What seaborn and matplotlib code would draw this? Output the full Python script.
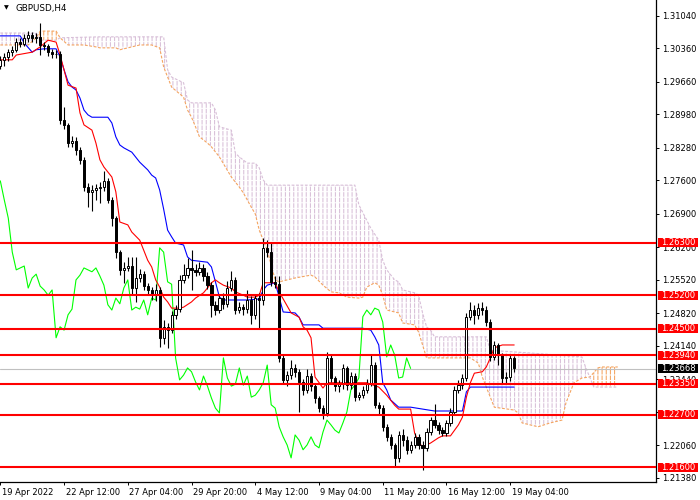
"""
GBPUSD H4 candles with Ichimoku and horizontal support/resistance levels,
drawn in the MetaTrader look. Saves out.png (700x500).
"""
import matplotlib
matplotlib.use("Agg")
import matplotlib.pyplot as plt
import matplotlib.transforms as mtransforms
from matplotlib.patches import Polygon, Rectangle
import numpy as np
import seaborn as sns

symbol = "GBPUSD,H4"

# candles, one per H4 bar (index 0 = first visible bar)
opens = [
    1.3000, 1.3012, 1.3018, 1.3028, 1.3033, 1.3049, 1.3045, 1.3058, 1.3064, 1.3058,
    1.3060, 1.3043, 1.3041, 1.3028, 1.3024, 1.3024, 1.2886, 1.2876, 1.2838, 1.2842,
    1.2824, 1.2803, 1.2746, 1.2736, 1.2740, 1.2744, 1.2746, 1.2759, 1.2719, 1.2681,
    1.2610, 1.2573, 1.2577, 1.2581, 1.2535, 1.2556, 1.2564, 1.2539, 1.2531, 1.2520,
    1.2531, 1.2431, 1.2454, 1.2447, 1.2479, 1.2491, 1.2552, 1.2562, 1.2577, 1.2573,
    1.2569, 1.2577, 1.2560, 1.2541, 1.2500, 1.2489, 1.2514, 1.2502, 1.2535, 1.2552,
    1.2489, 1.2495, 1.2491, 1.2510, 1.2479, 1.2514, 1.2510, 1.2619, 1.2610, 1.2548,
    1.2543, 1.2389, 1.2343, 1.2353, 1.2368, 1.2360, 1.2339, 1.2322, 1.2351, 1.2330,
    1.2305, 1.2284, 1.2274, 1.2389, 1.2347, 1.2330, 1.2334, 1.2368, 1.2332, 1.2351,
    1.2307, 1.2311, 1.2322, 1.2337, 1.2374, 1.2291, 1.2284, 1.2245, 1.2224, 1.2207,
    1.2180, 1.2228, 1.2217, 1.2197, 1.2207, 1.2224, 1.2207, 1.2201, 1.2234, 1.2259,
    1.2249, 1.2238, 1.2232, 1.2253, 1.2276, 1.2322, 1.2332, 1.2347, 1.2475, 1.2489,
    1.2479, 1.2493, 1.2489, 1.2464, 1.2391, 1.2416, 1.2395, 1.2347, 1.2349, 1.2389,
]
closes = [
    1.3012, 1.3018, 1.3028, 1.3033, 1.3049, 1.3045, 1.3058, 1.3064, 1.3058, 1.3060,
    1.3043, 1.3041, 1.3028, 1.3024, 1.3024, 1.2886, 1.2876, 1.2838, 1.2842, 1.2824,
    1.2803, 1.2746, 1.2736, 1.2740, 1.2744, 1.2746, 1.2759, 1.2719, 1.2681, 1.2610,
    1.2573, 1.2577, 1.2581, 1.2535, 1.2556, 1.2564, 1.2539, 1.2531, 1.2520, 1.2531,
    1.2431, 1.2454, 1.2447, 1.2479, 1.2491, 1.2552, 1.2562, 1.2577, 1.2573, 1.2569,
    1.2577, 1.2560, 1.2541, 1.2500, 1.2489, 1.2514, 1.2502, 1.2535, 1.2552, 1.2489,
    1.2495, 1.2491, 1.2510, 1.2479, 1.2514, 1.2510, 1.2619, 1.2610, 1.2548, 1.2543,
    1.2389, 1.2343, 1.2353, 1.2368, 1.2360, 1.2339, 1.2322, 1.2351, 1.2330, 1.2305,
    1.2284, 1.2274, 1.2389, 1.2347, 1.2330, 1.2334, 1.2368, 1.2332, 1.2351, 1.2307,
    1.2311, 1.2322, 1.2337, 1.2374, 1.2291, 1.2284, 1.2245, 1.2224, 1.2207, 1.2180,
    1.2228, 1.2217, 1.2197, 1.2207, 1.2224, 1.2207, 1.2201, 1.2234, 1.2259, 1.2249,
    1.2238, 1.2232, 1.2253, 1.2276, 1.2322, 1.2332, 1.2347, 1.2475, 1.2489, 1.2479,
    1.2493, 1.2489, 1.2464, 1.2391, 1.2416, 1.2395, 1.2347, 1.2349, 1.2389, 1.2367,
]
highs = [
    1.3020, 1.3026, 1.3035, 1.3041, 1.3057, 1.3058, 1.3066, 1.3072, 1.3070, 1.3068,
    1.3089, 1.3050, 1.3046, 1.3034, 1.3032, 1.3030, 1.2913, 1.2880, 1.2852, 1.2850,
    1.2830, 1.2808, 1.2755, 1.2750, 1.2752, 1.2756, 1.2780, 1.2764, 1.2725, 1.2686,
    1.2615, 1.2590, 1.2600, 1.2600, 1.2600, 1.2575, 1.2570, 1.2546, 1.2538, 1.2543,
    1.2537, 1.2468, 1.2462, 1.2487, 1.2500, 1.2562, 1.2585, 1.2598, 1.2614, 1.2586,
    1.2590, 1.2585, 1.2568, 1.2548, 1.2508, 1.2522, 1.2524, 1.2550, 1.2570, 1.2558,
    1.2505, 1.2502, 1.2530, 1.2518, 1.2522, 1.2525, 1.2640, 1.2635, 1.2632, 1.2560,
    1.2560, 1.2395, 1.2362, 1.2385, 1.2376, 1.2366, 1.2345, 1.2365, 1.2357, 1.2335,
    1.2310, 1.2290, 1.2401, 1.2395, 1.2352, 1.2342, 1.2376, 1.2373, 1.2360, 1.2357,
    1.2318, 1.2330, 1.2345, 1.2395, 1.2380, 1.2296, 1.2290, 1.2250, 1.2230, 1.2212,
    1.2236, 1.2240, 1.2225, 1.2215, 1.2232, 1.2230, 1.2215, 1.2242, 1.2266, 1.2292,
    1.2255, 1.2245, 1.2260, 1.2284, 1.2330, 1.2342, 1.2356, 1.2483, 1.2505, 1.2500,
    1.2503, 1.2505, 1.2497, 1.2470, 1.2425, 1.2420, 1.2400, 1.2360, 1.2396, 1.2392,
]
lows = [
    1.2992, 1.3000, 1.3010, 1.3020, 1.3028, 1.3038, 1.3040, 1.3050, 1.3050, 1.3048,
    1.3022, 1.3033, 1.3020, 1.3016, 1.3015, 1.2878, 1.2868, 1.2830, 1.2830, 1.2812,
    1.2795, 1.2738, 1.2705, 1.2695, 1.2720, 1.2712, 1.2738, 1.2712, 1.2665, 1.2598,
    1.2562, 1.2545, 1.2570, 1.2520, 1.2505, 1.2548, 1.2530, 1.2522, 1.2510, 1.2508,
    1.2412, 1.2418, 1.2410, 1.2440, 1.2470, 1.2485, 1.2545, 1.2555, 1.2530, 1.2560,
    1.2562, 1.2550, 1.2532, 1.2474, 1.2478, 1.2482, 1.2492, 1.2495, 1.2528, 1.2480,
    1.2482, 1.2478, 1.2483, 1.2460, 1.2470, 1.2452, 1.2500, 1.2600, 1.2540, 1.2535,
    1.2380, 1.2335, 1.2330, 1.2345, 1.2350, 1.2276, 1.2312, 1.2315, 1.2320, 1.2295,
    1.2275, 1.2262, 1.2268, 1.2338, 1.2320, 1.2318, 1.2325, 1.2322, 1.2325, 1.2298,
    1.2300, 1.2305, 1.2315, 1.2330, 1.2285, 1.2272, 1.2236, 1.2215, 1.2198, 1.2160,
    1.2172, 1.2205, 1.2188, 1.2190, 1.2200, 1.2198, 1.2155, 1.2195, 1.2228, 1.2242,
    1.2230, 1.2225, 1.2225, 1.2246, 1.2270, 1.2316, 1.2325, 1.2340, 1.2468, 1.2460,
    1.2470, 1.2478, 1.2455, 1.2383, 1.2385, 1.2375, 1.2335, 1.2335, 1.2340, 1.2360,
]

# Ichimoku lines, read as (bar index, price) break points
tenkan_idx = [0, 3, 4, 8, 10, 12, 14, 15, 16, 17, 19, 20, 21, 23, 24, 25, 26, 28, 29, 30,
              32, 33, 35, 36, 37, 38, 39, 40, 41, 42, 43, 45, 46, 48, 49, 51, 52, 53, 54, 55,
              56, 58, 59, 61, 62, 64, 65, 66, 69, 70, 73, 75, 76, 77, 78, 79, 81, 82, 92, 95,
              97, 99, 100, 103, 104, 105, 106, 108, 110, 111, 113, 115, 116, 117, 118, 119, 121, 122, 123, 124,
              126, 129]
tenkan = [1.3012, 1.3012, 1.3022, 1.3028, 1.3039, 1.3053, 1.3049, 1.3022, 1.2991, 1.2959,
          1.2953, 1.2901, 1.2876, 1.2865, 1.2838, 1.2803, 1.2788, 1.2767, 1.2736, 1.2673,
          1.2667, 1.2652, 1.2635, 1.2614, 1.2593, 1.2579, 1.2552, 1.2537, 1.2516, 1.2506,
          1.2493, 1.2493, 1.2495, 1.2506, 1.2514, 1.2525, 1.2535, 1.2546, 1.2552, 1.2546,
          1.2541, 1.2535, 1.2527, 1.2520, 1.2516, 1.2516, 1.2520, 1.2546, 1.2546, 1.2527,
          1.2483, 1.2474, 1.2454, 1.2447, 1.2431, 1.2349, 1.2326, 1.2337, 1.2337, 1.2328,
          1.2311, 1.2290, 1.2282, 1.2282, 1.2232, 1.2213, 1.2203, 1.2211, 1.2222, 1.2226,
          1.2226, 1.2249, 1.2265, 1.2307, 1.2337, 1.2357, 1.2360, 1.2370, 1.2389, 1.2410,
          1.2416, 1.2416]

kijun_idx = [0, 5, 6, 8, 9, 11, 14, 15, 16, 17, 18, 19, 20, 21, 22, 23, 27, 28, 29, 30,
             31, 33, 35, 37, 38, 39, 40, 41, 42, 43, 44, 46, 47, 48, 52, 53, 54, 55, 56, 62,
             65, 66, 67, 69, 70, 71, 74, 75, 76, 80, 81, 91, 93, 94, 95, 96, 97, 98, 100, 103,
             109, 116, 117, 118, 129]
kijun = [1.3062, 1.3062, 1.3047, 1.3028, 1.3033, 1.3035, 1.3035, 1.3018, 1.2991, 1.2966,
         1.2955, 1.2949, 1.2932, 1.2907, 1.2897, 1.2892, 1.2892, 1.2880, 1.2851, 1.2834,
         1.2828, 1.2819, 1.2798, 1.2782, 1.2771, 1.2765, 1.2740, 1.2700, 1.2656, 1.2642,
         1.2629, 1.2625, 1.2600, 1.2593, 1.2589, 1.2579, 1.2548, 1.2516, 1.2510, 1.2510,
         1.2512, 1.2531, 1.2541, 1.2546, 1.2516, 1.2485, 1.2483, 1.2474, 1.2458, 1.2458,
         1.2451, 1.2451, 1.2447, 1.2433, 1.2416, 1.2337, 1.2322, 1.2301, 1.2286, 1.2286,
         1.2278, 1.2278, 1.2318, 1.2328, 1.2328]

span_a_idx = [0, 7, 9, 10, 14, 15, 17, 21, 24, 25, 29, 30, 33, 35, 38, 40, 41, 42, 43, 46,
              47, 48, 49, 50, 52, 53, 55, 58, 60, 61, 62, 63, 64, 65, 66, 67, 68, 69, 70, 74,
              78, 79, 81, 83, 85, 87, 90, 91, 92, 94, 95, 96, 97, 100, 101, 104, 105, 107, 118, 120,
              121, 122, 123, 124, 129, 130, 131, 135, 138, 141, 142, 144, 146, 148, 150, 151, 155]
span_a = [1.3043, 1.3043, 1.3058, 1.3072, 1.3072, 1.3058, 1.3043, 1.3043, 1.3039, 1.3037,
          1.3037, 1.3033, 1.3039, 1.3043, 1.3043, 1.3037, 1.2997, 1.2976, 1.2955, 1.2934,
          1.2907, 1.2892, 1.2872, 1.2851, 1.2838, 1.2830, 1.2809, 1.2767, 1.2746, 1.2734,
          1.2719, 1.2704, 1.2690, 1.2656, 1.2635, 1.2614, 1.2583, 1.2552, 1.2548, 1.2556,
          1.2562, 1.2558, 1.2541, 1.2527, 1.2525, 1.2516, 1.2514, 1.2516, 1.2537, 1.2546,
          1.2541, 1.2520, 1.2489, 1.2483, 1.2462, 1.2458, 1.2443, 1.2389, 1.2389, 1.2378,
          1.2349, 1.2328, 1.2307, 1.2286, 1.2280, 1.2274, 1.2253, 1.2245, 1.2253, 1.2259,
          1.2295, 1.2337, 1.2347, 1.2349, 1.2368, 1.2370, 1.2370]

span_b_idx = [0, 9, 10, 14, 15, 25, 41, 42, 43, 46, 47, 48, 53, 54, 55, 58, 59, 60, 62, 64,
              65, 66, 67, 89, 90, 93, 95, 96, 97, 99, 100, 101, 104, 105, 106, 107, 108, 109, 122, 123,
              135, 146, 147, 149, 155]
span_b = [1.3068, 1.3068, 1.3053, 1.3053, 1.3058, 1.3060, 1.3060, 1.2991, 1.2976, 1.2964,
          1.2928, 1.2922, 1.2922, 1.2907, 1.2872, 1.2865, 1.2817, 1.2809, 1.2796, 1.2796,
          1.2786, 1.2761, 1.2750, 1.2750, 1.2709, 1.2660, 1.2635, 1.2593, 1.2573, 1.2552,
          1.2548, 1.2531, 1.2525, 1.2520, 1.2483, 1.2454, 1.2447, 1.2433, 1.2433, 1.2405,
          1.2398, 1.2391, 1.2368, 1.2328, 1.2328]

# bar ranges where span A is above span B (sandy cloud)
up_cloud = [(9.5, 14.5), (147.8, 156.0)]
chikou_shift = 26

levels = [1.2630, 1.2520, 1.2450, 1.2394, 1.2335, 1.2270, 1.2160]
bid = 1.23668

price_ticks = [1.31040, 1.30360, 1.29660, 1.28980, 1.28280, 1.27600, 1.26900, 1.26200,
               1.25520, 1.24820, 1.24140, 1.23440, 1.22760, 1.22060, 1.21380]
hidden_ticks = [1.22760]  # sits fully under the 1.22700 box
time_tick_idx = [0, 16, 32, 48, 64, 80, 96, 112, 128]
time_labels = ["19 Apr 2022", "22 Apr 12:00", "27 Apr 04:00", "29 Apr 20:00", "4 May 12:00",
               "9 May 04:00", "11 May 20:00", "16 May 12:00", "19 May 04:00"]

THISTLE = "#D8BFD8"
SANDY = "#F4A460"

sns.set_theme(style="white")
plt.rcParams["font.family"] = ["DejaVu Sans"]
plt.rcParams["hatch.linewidth"] = 0.75

fig = plt.figure(figsize=(7, 5), dpi=100)
ax = fig.add_axes([0, 18 / 500, 656 / 700, 482 / 500])
ax.set_facecolor("white")
ymin, ymax = 1.21296, 1.3137
ax.set_xlim(-0.08, 164.6)
ax.set_ylim(ymin, ymax)

# cloud: hatched polygon between span A and span B, broken into dashes
verts = list(zip(span_a_idx, span_a)) + list(zip(span_b_idx[::-1], span_b[::-1]))
pink_ranges = [(-1, up_cloud[0][0]), (up_cloud[0][1], up_cloud[1][0])]
for ranges, colour in ((pink_ranges, THISTLE), (up_cloud, SANDY)):
    for x0, x1 in ranges:
        patch = Polygon(verts, closed=True, fill=False, hatch="||||",
                        edgecolor=colour, linewidth=0, zorder=1)
        ax.add_patch(patch)
        clip = Rectangle((x0, ymin), x1 - x0, ymax - ymin, transform=ax.transData)
        patch.set_clip_path(clip)
breaker = Polygon(verts, closed=True, fill=False, hatch="---", edgecolor="white",
                  linewidth=0, zorder=1.05)
ax.add_patch(breaker)

ax.plot(span_a_idx, span_a, color=SANDY, lw=0.8, ls=(0, (2.5, 1.5)), zorder=1.5)
ax.plot(span_b_idx, span_b, color=THISTLE, lw=0.8, ls=(0, (2.5, 1.5)), zorder=1.5)

ax.axhline(bid, color="#C0C0C0", lw=0.8, zorder=1.6)

bars = np.arange(len(closes))
sns.lineplot(x=bars - chikou_shift, y=closes, color="#00FF00", lw=0.8, ax=ax, zorder=2)
sns.lineplot(x=kijun_idx, y=kijun, color="#0000FF", lw=0.8, ax=ax, zorder=2.1)
sns.lineplot(x=tenkan_idx, y=tenkan, color="#FF0000", lw=0.8, ax=ax, zorder=2.2)

# candles
o = np.array(opens)
c = np.array(closes)
ax.vlines(bars, lows, highs, color="black", lw=0.8, zorder=3)
body_colors = ["white" if cc >= oo else "black" for oo, cc in zip(o, c)]
ax.bar(bars, np.abs(c - o), bottom=np.minimum(o, c), width=0.55, color=body_colors,
       edgecolor="black", linewidth=0.7, zorder=4)

for lv in levels:
    ax.axhline(lv, color="#FF0000", lw=1.5, zorder=5)

# axes frame and ticks, MetaTrader style
for side in ("top", "left"):
    ax.spines[side].set_visible(False)
for side in ("right", "bottom"):
    ax.spines[side].set_visible(True)
    ax.spines[side].set_color("black")
    ax.spines[side].set_linewidth(0.9)
ax.grid(False)
ax.set_xlabel("")
ax.set_ylabel("")

ax.yaxis.tick_right()
ax.set_yticks(price_ticks)
ax.set_yticklabels(["" if t in hidden_ticks else f"{t:.5f}" for t in price_ticks])
ax.tick_params(axis="y", which="both", right=True, left=False, direction="out",
               length=2.5, width=0.7, pad=2, labelsize=6, colors="black")

ax.set_xticks(time_tick_idx)
ax.set_xticklabels(time_labels, ha="left")
ax.tick_params(axis="x", bottom=True, direction="out", length=2.5, width=0.7, pad=1.5,
               labelsize=6, colors="black")
shift = mtransforms.ScaledTranslation(1.5 / 100, 0, fig.dpi_scale_trans)
for lbl in ax.get_xticklabels():
    lbl.set_transform(lbl.get_transform() + shift)

# price boxes on the right scale
box_trans = mtransforms.blended_transform_factory(ax.transAxes, ax.transData)
box_w = 40 / 656
box_h = 0.0019
for value, face in [(lv, "#FF0000") for lv in levels] + [(bid, "black")]:
    rect = Rectangle((1 + 2 / 656, value - box_h / 2), box_w, box_h, transform=box_trans,
                     facecolor=face, edgecolor="none", clip_on=False, zorder=8)
    ax.add_patch(rect)
    ax.text(1 + 2 / 656 + box_w / 2, value, f"{value:.5f}", transform=box_trans,
            ha="center", va="center", fontsize=6, color="white", zorder=9, clip_on=False)

fig.text(4 / 700, 1 - 8 / 500, "\u25bc", fontsize=4.5, va="center", ha="left", color="black")
fig.text(15 / 700, 1 - 8 / 500, symbol, fontsize=6.3, va="center", ha="left", color="black")

fig.savefig("out.png", dpi=100, facecolor="white")
plt.close(fig)
